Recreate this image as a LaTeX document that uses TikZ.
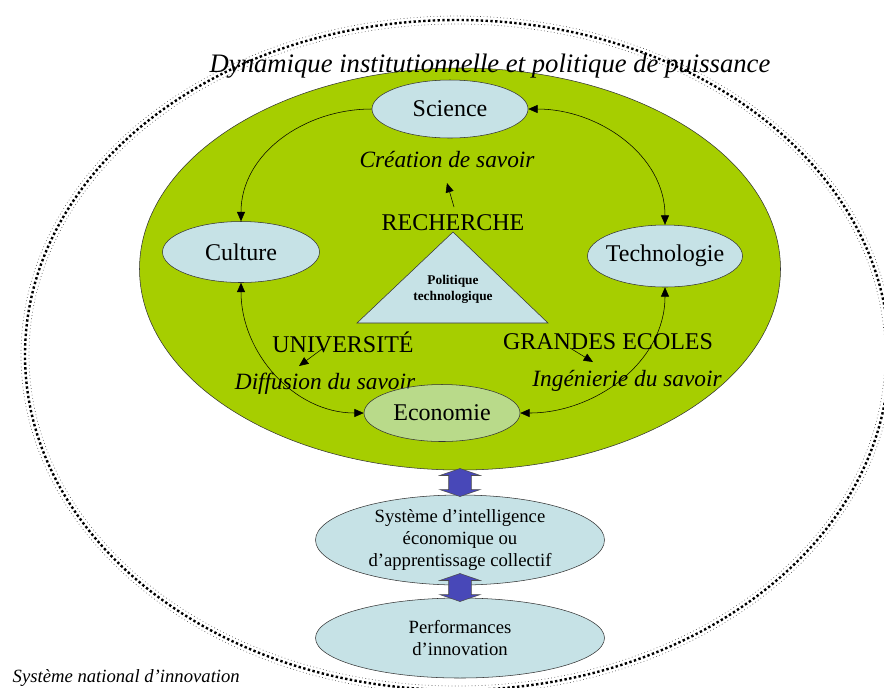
\documentclass[tikz,border=0pt]{standalone}
\usepackage{fontspec}
\setmainfont{Liberation Serif}
\usetikzlibrary{shapes.geometric,shapes.arrows,arrows.meta,calc}
\definecolor{vert}{RGB}{166,206,0}
\definecolor{bleuclair}{RGB}{198,226,230}
\definecolor{bleu}{RGB}{72,72,184}
\tikzset{
  pole/.style={ellipse, draw=black!80, fill=bleuclair, inner sep=0pt, inner xsep=-12pt, font=\fontsize{18}{21}\selectfont},
  lien/.style={{Triangle[length=7pt,width=6pt]}-{Triangle[length=7pt,width=6pt]}},
  lienun/.style={-{Triangle[length=7pt,width=6pt]}},
  savoir/.style={font=\fontsize{17.5}{20}\selectfont\itshape},
  inst/.style={font=\fontsize{18}{21}\selectfont},
  bloc/.style={double arrow, draw=black!70, fill=bleu, rotate=90, minimum height=21pt, inner xsep=0pt, inner ysep=8.25pt,
    double arrow head extend=6.75pt, double arrow tip angle=142},
  bande/.style={dotted, line width=0.5pt, black!70},
}
\begin{document}
\begin{tikzpicture}[x=0.75pt,y=-0.75pt]
\useasboundingbox (0,0) rectangle (884,687);
\clip (0,0) rectangle (884,687);
\draw[bande] (457,355) ellipse [x radius=436, y radius=339];
\draw[bande] (457,355) ellipse [x radius=428, y radius=331];
\draw[line width=1.8pt, dash pattern=on 1.8pt off 1.8pt] (457,355) ellipse [x radius=432, y radius=335];
\node[ellipse, draw=black!80, fill=vert, minimum width=480.75pt, minimum height=301.5pt] (dyn) at (460,269) {};
\node[font=\fontsize{20}{24}\selectfont\itshape] (titre) at (490,66) {Dynamique institutionnelle et politique de puissance};
\draw[draw=black!80, fill=bleuclair] (453,232) -- (548,323) -- (357,323) -- cycle;
\node[font=\fontsize{10}{12}\selectfont\bfseries, align=center] (pol) at (453,289) {Politique\\technologique};
\node[inst] (rech) at (453,223) {RECHERCHE};
\node[savoir] (creat) at (447,160) {Création de savoir};
\node[inst] (univ) at (343,342) {UNIVERSITÉ};
\node[savoir] (diff) at (325,384) {Diffusion du savoir};
\node[inst] (ge) at (608,342) {GRANDES ECOLES};
\node[savoir] (ing) at (627,381) {Ingénierie du savoir};
\node[pole, minimum width=117pt, minimum height=43.5pt] (sci) at (450,109) {Science};
\node[pole, minimum width=117.75pt, minimum height=45.75pt] (cult) at (241,252) {Culture};
\node[pole, minimum width=116.25pt, minimum height=46.5pt] (tech) at (665,256) {Technologie};
\node[pole, fill opacity=0.6, text opacity=1, minimum width=117pt, minimum height=42.75pt] (eco) at (442,413) {Economie};
\draw[lienun] (sci.west) to[out=180,in=90] (cult.north);
\draw[lien] (sci.east) to[out=0,in=90] (tech.north);
\draw[lien] (cult.south) to[out=270,in=180] (eco.west);
\draw[lien] (tech.south) to[out=270,in=0] (eco.east);
\draw[lienun] ($(rech)+(1,-16)$) -- ($(creat)+(0,23)$);
\draw[lienun] ($(univ)+(-21,7)$) -- ($(diff)+(-26,-18)$);
\draw[lienun] ($(ge)+(-38,6)$) -- ($(ing)+(-34,-19)$);
\node[pole, font=\fontsize{14}{16.5}\selectfont, align=center, minimum width=216.75pt, minimum height=67.5pt] (sys) at (460,540)
  {Système d’intelligence\\économique ou\\d’apprentissage collectif};
\node[pole, font=\fontsize{14}{16.5}\selectfont, align=center, minimum width=216.75pt, minimum height=60pt] (perf) at (460,638)
  {Performances\\d’innovation};
\node[bloc] (fa) at ($(dyn.south)!0.5!(sys.north)$) {};
\node[bloc] (fb) at ($(sys.south)!0.5!(perf.north)+(0,-4)$) {};
\node[font=\fontsize{14}{16}\selectfont\itshape, anchor=west] (sni) at (8,678) {Système national d’innovation};
\end{tikzpicture}
\end{document}
